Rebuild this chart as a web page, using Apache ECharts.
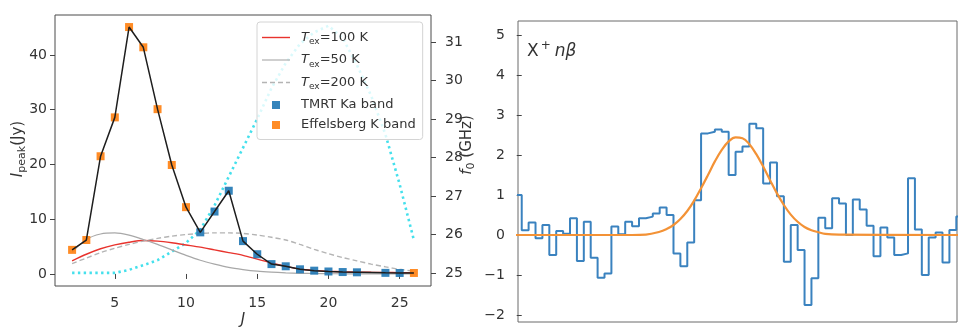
<!DOCTYPE html>
<html>
<head>
<meta charset="utf-8">
<script src="https://cdn.jsdelivr.net/npm/echarts@6/dist/echarts.min.js"></script>
<style>
  html, body { margin: 0; padding: 0; background: #fff; }
  #chart { width: 958px; height: 327px; }
</style>
</head>
<body>
<div id="chart"></div>
<script>
// left panel: rotational levels J and model curves
const J_GRID = [2, 3, 4, 5, 6, 7, 8, 9, 10, 11, 12, 13, 14, 15, 16, 17, 18, 19, 20, 21, 22, 23, 24, 25, 26]
const MODEL_T100 = [2.4, 3.6, 4.6, 5.3, 5.8, 6.1, 6.0, 5.7, 5.3, 4.9, 4.4, 3.9, 3.4, 2.7, 2.0, 1.4, 0.9, 0.65, 0.5, 0.4, 0.34, 0.3, 0.27, 0.24, 0.22]
const MODEL_T50 = [4.0, 6.3, 7.3, 7.5, 7.1, 6.3, 5.4, 4.4, 3.4, 2.5, 1.8, 1.2, 0.8, 0.5, 0.32, 0.2, 0.12, 0.08, 0.05, 0.03, 0.02, 0.01, 0.01, 0, 0]
const MODEL_T200 = [1.9, 2.9, 3.9, 4.7, 5.4, 6.0, 6.5, 6.9, 7.2, 7.4, 7.5, 7.5, 7.4, 7.1, 6.7, 6.2, 5.4, 4.5, 3.7, 3.0, 2.4, 1.8, 1.3, 0.85, 0.5]
const F0_GHZ = [25.0, 25.0, 25.0, 25.0, 25.08, 25.2, 25.33, 25.55, 25.78, 26.12, 26.75, 27.5, 28.25, 29.0, 29.8, 30.45, 30.95, 31.25, 31.42, 31.1, 30.4, 29.6, 28.6, 27.3, 25.85]

// observed peaks (E = Effelsberg K band, T = TMRT Ka band)
const OBS_J = [2, 3, 4, 5, 6, 7, 8, 9, 10, 11, 12, 13, 14, 15, 16, 17, 18, 19, 20, 21, 22, 24, 25, 26]
const OBS_PEAK = [4.4, 6.2, 21.5, 28.6, 45.1, 41.4, 30.1, 19.9, 12.2, 7.6, 11.4, 15.2, 6.0, 3.6, 1.8, 1.4, 0.85, 0.6, 0.45, 0.35, 0.3, 0.2, 0.18, 0.18]
const OBS_BAND = ['E', 'E', 'E', 'E', 'E', 'E', 'E', 'E', 'E', 'T', 'T', 'T', 'T', 'T', 'T', 'T', 'T', 'T', 'T', 'T', 'T', 'T', 'T', 'E']

const J_TICKS = [5, 10, 15, 20, 25]
const PEAK_TICKS = [0, 10, 20, 30, 40]
const F0_TICKS = [25, 26, 27, 28, 29, 30, 31]

// right panel: stacked spectrum, one value per channel, first channel index -1
const SPEC_FIRST_CHAN = -1
const SPEC_FLUX = [1.0, 0.12, 0.31, -0.08, 0.25, -0.5, 0.1, 0.03, 0.42, -0.65, 0.33, -0.57, -1.07, -0.96, 0.21, 0.02,
  0.33, 0.22, 0.42, 0.46, 0.54, 0.69, 0.5, -0.46, -0.78, -0.19, 0.87, 2.54, 2.58, 2.64, 2.58, 1.5,
  2.08, 2.21, 2.78, 2.67, 1.29, 1.81, 0.97, -0.67, 0.25, -0.375, -1.75, -1.08, 0.43, 0.17, 0.92, 0.79,
  0.0, 0.89, 0.64, 0.23, -0.53, 0.19, -0.06, -0.5, -0.46, 1.42, 0.14, -1.0, -0.06, 0.06, -0.69, 0.125, 0.46]
const FIT_X = [-1, 16, 18, 20, 21, 22, 23, 24, 25, 26, 27, 28, 29, 30, 31, 32, 33, 34, 35, 36, 37, 38, 39, 40, 41, 42, 43, 44, 46, 64]
const FIT_Y = [0, 0, 0.01, 0.08, 0.15, 0.25, 0.40, 0.60, 0.86, 1.17, 1.50, 1.84, 2.13, 2.34, 2.44, 2.42, 2.27, 2.02, 1.71, 1.37, 1.04, 0.75, 0.51, 0.33, 0.20, 0.12, 0.07, 0.03, 0.01, 0]
const SPEC_TICKS = [-2, -1, 0, 1, 2, 3, 4, 5]

const FONT = 'DejaVu Sans'
const INK = '#333'

const zip = (xs, ys) => xs.map((x, i) => [x, ys[i]])
const pick = (band) => OBS_J.map((j, i) => [j, OBS_PEAK[i], OBS_BAND[i]]).filter(d => d[2] === band).map(d => [d[0], d[1]])

const specPoints = SPEC_FLUX.map((v, i) => [SPEC_FIRST_CHAN + i, v])
specPoints.push([SPEC_FIRST_CHAN + SPEC_FLUX.length, SPEC_FLUX[SPEC_FLUX.length - 1]])

const labelStyle = { color: INK, fontFamily: FONT, fontSize: 14 }
const tickStyle = { lineStyle: { color: '#444', width: 1 } }
const minus = v => (v < 0 ? '\u2212' + (-v) : String(v))

const legendRich = {
  i: { fontFamily: FONT, fontSize: 13, fontStyle: 'italic', color: INK, lineHeight: 18 },
  ii: { fontFamily: FONT, fontSize: 13, fontStyle: 'italic', color: INK, lineHeight: 18, padding: [0, 0, 0, 6] },
  s: { fontFamily: FONT, fontSize: 9, color: INK, lineHeight: 8, verticalAlign: 'bottom' },
  n: { fontFamily: FONT, fontSize: 13, color: INK, lineHeight: 18 },
  nn: { fontFamily: FONT, fontSize: 13, color: INK, lineHeight: 18, padding: [0, 0, 0, 6] }
}
const legendText = {
  T100: '{ii|T}{s|ex}{n|=100 K}',
  T50: '{ii|T}{s|ex}{n|=50 K}',
  T200: '{ii|T}{s|ex}{n|=200 K}',
  TMRT: '{nn|TMRT Ka band}',
  Eff: '{nn|Effelsberg K band}'
}
const squareIcon = 'path://M0,0H10V10H0Z'
const solidIcon = 'path://M0,0H28V1.4H0Z'
const thinIcon = 'path://M0,0H28V1.1H0Z'
const dashIcon = 'path://M0,0H5V1.3H0Z M8,0H13V1.3H8Z M16,0H21V1.3H16Z M24,0H28V1.3H24Z'

const option = {
  animation: false,
  backgroundColor: '#fff',
  grid: [
    { left: 55, top: 15, width: 376, height: 271, show: true, borderColor: '#4a4a4a', borderWidth: 1 },
    { left: 518, top: 21, width: 439, height: 301, show: true, borderColor: '#6a6a6a', borderWidth: 1 }
  ],
  xAxis: [
    {
      gridIndex: 0, type: 'value', min: 0.8, max: 27.2,
      axisLine: { show: false }, splitLine: { show: false },
      axisTick: { show: true, length: 5, customValues: J_TICKS, ...tickStyle },
      axisLabel: { customValues: J_TICKS, margin: 10, ...labelStyle }
    },
    {
      gridIndex: 1, type: 'value', min: -0.54, max: 63.1,
      axisLine: { show: false }, splitLine: { show: false },
      axisTick: { show: false }, axisLabel: { show: false }
    }
  ],
  yAxis: [
    {
      gridIndex: 0, type: 'value', min: -2.2, max: 47.3,
      axisLine: { show: false }, splitLine: { show: false },
      axisTick: { show: true, length: 5, customValues: PEAK_TICKS, ...tickStyle },
      axisLabel: { customValues: PEAK_TICKS, margin: 8, ...labelStyle }
    },
    {
      gridIndex: 0, type: 'value', position: 'right', min: 24.66, max: 31.7,
      axisLine: { show: false }, splitLine: { show: false },
      axisTick: { show: true, length: 5, customValues: F0_TICKS, ...tickStyle },
      axisLabel: { customValues: F0_TICKS, margin: 14, ...labelStyle }
    },
    {
      gridIndex: 1, type: 'value', min: -2.175, max: 5.35,
      axisLine: { show: false }, splitLine: { show: false },
      axisTick: { show: true, length: 5, customValues: SPEC_TICKS, ...tickStyle },
      axisLabel: { customValues: SPEC_TICKS, margin: 13, formatter: minus, ...labelStyle }
    }
  ],
  legend: {
    left: 257, top: 22, orient: 'vertical',
    itemWidth: 28, itemHeight: 8, itemGap: 7,
    padding: [9, 7, 8, 5],
    backgroundColor: 'rgba(255,255,255,0.8)',
    borderColor: '#d4d4d4', borderWidth: 1, borderRadius: 3,
    selectedMode: false,
    data: [
      { name: 'T100', icon: solidIcon }, { name: 'T50', icon: thinIcon }, { name: 'T200', icon: dashIcon },
      { name: 'TMRT', icon: squareIcon }, { name: 'Eff', icon: squareIcon }
    ],
    formatter: name => legendText[name],
    textStyle: { fontFamily: FONT, fontSize: 13, color: INK, height: 18, rich: legendRich }
  },
  series: [
    {
      name: 'f0', type: 'line', xAxisIndex: 0, yAxisIndex: 1,
      data: zip(J_GRID, F0_GHZ), symbol: 'none', z: 2,
      lineStyle: { color: '#45e0ec', width: 2.6, type: [2.4, 3.4], cap: 'butt' }
    },
    {
      name: 'T100', type: 'line', xAxisIndex: 0, yAxisIndex: 0,
      data: zip(J_GRID, MODEL_T100), symbol: 'none', smooth: 0.3, z: 3,
      color: '#e8332d', lineStyle: { color: '#e8332d', width: 1.4 }
    },
    {
      name: 'T50', type: 'line', xAxisIndex: 0, yAxisIndex: 0,
      data: zip(J_GRID, MODEL_T50), symbol: 'none', smooth: 0.3, z: 3,
      color: '#a8a8a8', lineStyle: { color: '#a8a8a8', width: 1.2 }
    },
    {
      name: 'T200', type: 'line', xAxisIndex: 0, yAxisIndex: 0,
      data: zip(J_GRID, MODEL_T200), symbol: 'none', smooth: 0.3, z: 3,
      color: '#b4b4b4', lineStyle: { color: '#b4b4b4', width: 1.4, type: [5, 3] }
    },
    {
      name: 'TMRT', type: 'scatter', xAxisIndex: 0, yAxisIndex: 0,
      data: pick('T'), symbol: 'rect', symbolSize: 8, z: 4,
      itemStyle: { color: '#1f77b4', opacity: 0.9 }
    },
    {
      name: 'Eff', type: 'scatter', xAxisIndex: 0, yAxisIndex: 0,
      data: pick('E'), symbol: 'rect', symbolSize: 8, z: 4,
      itemStyle: { color: '#ff7f0e', opacity: 0.9 }
    },
    {
      name: 'observed', type: 'line', xAxisIndex: 0, yAxisIndex: 0,
      data: zip(OBS_J, OBS_PEAK), symbol: 'none', z: 5,
      lineStyle: { color: '#1e1e1e', width: 1.5 }
    },
    {
      name: 'spectrum', type: 'line', xAxisIndex: 1, yAxisIndex: 2,
      data: specPoints, step: 'end', symbol: 'none', z: 3,
      lineStyle: { color: '#3a82bf', width: 2 }
    },
    {
      name: 'fit', type: 'line', xAxisIndex: 1, yAxisIndex: 2,
      data: zip(FIT_X, FIT_Y), symbol: 'none', smooth: 0.4, z: 4,
      lineStyle: { color: '#f39236', width: 2.2 }
    }
  ],
  graphic: [
    {
      type: 'text', x: 18, y: 149, rotation: Math.PI / 2,
      style: {
        text: '{i|I}{s|peak}{n|(Jy)}', align: 'center', verticalAlign: 'middle',
        rich: {
          i: { fontFamily: FONT, fontSize: 15, fontStyle: 'italic', fill: INK, lineHeight: 20 },
          s: { fontFamily: FONT, fontSize: 11, fill: INK, lineHeight: 10, verticalAlign: 'bottom' },
          n: { fontFamily: FONT, fontSize: 15, fill: INK, lineHeight: 20 }
        }
      }
    },
    {
      type: 'text', x: 467, y: 145, rotation: Math.PI / 2,
      style: {
        text: '{i|f}{s|0}{n| (GHz)}', align: 'center', verticalAlign: 'middle',
        rich: {
          i: { fontFamily: FONT, fontSize: 15, fontStyle: 'italic', fill: INK, lineHeight: 20 },
          s: { fontFamily: FONT, fontSize: 11, fill: INK, lineHeight: 10, verticalAlign: 'bottom' },
          n: { fontFamily: FONT, fontSize: 15, fill: INK, lineHeight: 20 }
        }
      }
    },
    {
      type: 'text', x: 243, y: 313,
      style: { text: 'J', fontFamily: FONT, fontSize: 15, fontStyle: 'italic', fill: INK, align: 'center', verticalAlign: 'top' }
    },
    {
      type: 'text', x: 527, y: 52,
      style: {
        text: '{n|X}{p|+}{i|nβ}', align: 'left', verticalAlign: 'middle',
        rich: {
          n: { fontFamily: FONT, fontSize: 17, fill: INK, lineHeight: 24 },
          p: { fontFamily: FONT, fontSize: 12, fill: INK, lineHeight: 12, verticalAlign: 'top', padding: [0, 4, 0, 2] },
          i: { fontFamily: FONT, fontSize: 17, fontStyle: 'italic', fill: INK, lineHeight: 24 }
        }
      }
    }
  ]
}

const chart = echarts.init(document.getElementById('chart'))
chart.setOption(option)
</script>
</body>
</html>
